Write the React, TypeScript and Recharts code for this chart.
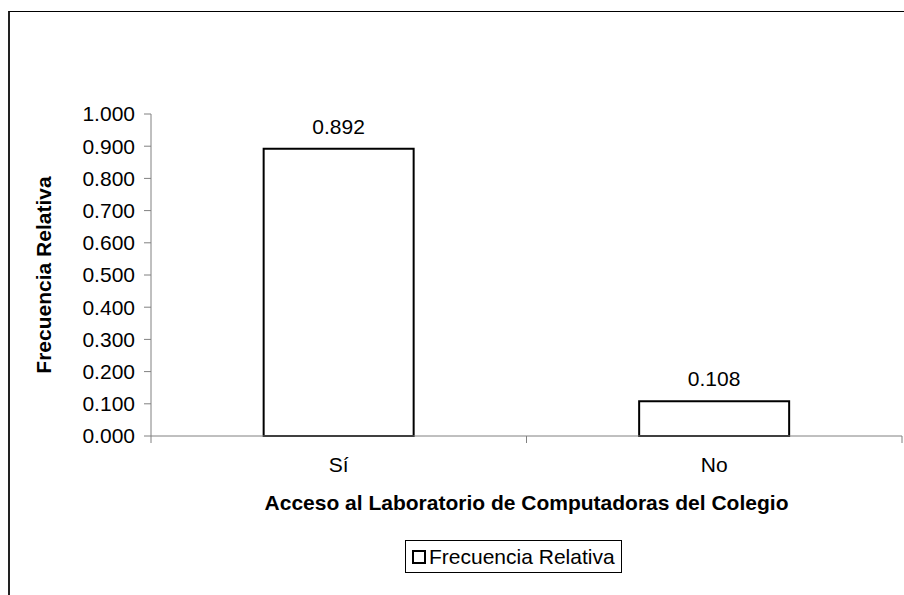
import React from "react"
import { BarChart, Bar, XAxis, YAxis, LabelList, Label } from "recharts"

const categories = ["Sí", "No"]
const frecuenciaRelativa = [0.892, 0.108]
const yTicks = [0, 0.1, 0.2, 0.3, 0.4, 0.5, 0.6, 0.7, 0.8, 0.9, 1.0]
const xTitle = "Acceso al Laboratorio de Computadoras del Colegio"
const yTitle = "Frecuencia Relativa"
const seriesName = "Frecuencia Relativa"

const data = categories.map((c, i) => ({ acceso: c, frecuencia: frecuenciaRelativa[i] }))

const FONT = "'Liberation Sans', Arial, sans-serif"
const FS = 21
const W = 904
const H = 595
const PLOT_LEFT = 151
const PLOT_RIGHT = 902
const HALF_BAND = (PLOT_RIGHT - PLOT_LEFT) / categories.length / 2

function CategoryTick(props: any) {
  const { x, y, payload, index } = props
  const last = index === categories.length - 1
  return (
    <g>
      <line x1={x - HALF_BAND} y1={y} x2={x - HALF_BAND} y2={y + 7} stroke="#808080" />
      {last && <line x1={x + HALF_BAND} y1={y} x2={x + HALF_BAND} y2={y + 7} stroke="#808080" />}
      <text x={x} y={y + 36} textAnchor="middle" fontSize={FS} fontFamily={FONT} fill="#000">
        {payload.value}
      </text>
    </g>
  )
}

export default function App() {
  return (
    <div style={{ position: "absolute", left: 0, top: 0, width: W, height: H, background: "#fff", overflow: "hidden" }}>
      <div
        style={{
          position: "absolute",
          left: 8,
          top: 11,
          width: 1000,
          height: 1000,
          borderLeft: "2px solid #222",
          borderTop: "1.5px solid #000",
        }}
      />
      <div style={{ position: "absolute", left: 0, top: 0 }}>
        <BarChart
          width={W}
          height={H}
          data={data}
          margin={{ top: 114, right: W - PLOT_RIGHT, bottom: 79, left: 0 }}
          barCategoryGap="30%"
        >
          <XAxis
            dataKey="acceso"
            height={80}
            tickSize={0}
            tickMargin={0}
            tickLine={false}
            axisLine={{ stroke: "#808080" }}
            tick={<CategoryTick />}
            interval={0}
          >
            <Label
              content={(p: any) => (
                <text
                  x={p.viewBox.x + p.viewBox.width / 2}
                  y={p.viewBox.y + 74}
                  textAnchor="middle"
                  fontSize={FS}
                  fontWeight="bold"
                  fontFamily={FONT}
                  fill="#000"
                >
                  {xTitle}
                </text>
              )}
            />
          </XAxis>
          <YAxis
            width={PLOT_LEFT}
            domain={[0, 1]}
            ticks={yTicks}
            interval={0}
            tickFormatter={(v: number) => v.toFixed(3)}
            tickSize={7}
            tickMargin={9}
            axisLine={{ stroke: "#808080" }}
            tickLine={{ stroke: "#808080" }}
            tick={{ fill: "#000", fontSize: FS, fontFamily: FONT }}
          >
            <Label
              content={(p: any) => {
                const cx = p.viewBox.x + 43
                const cy = p.viewBox.y + p.viewBox.height / 2
                return (
                  <text
                    x={cx}
                    y={cy}
                    transform={`rotate(-90 ${cx} ${cy})`}
                    textAnchor="middle"
                    dominantBaseline="central"
                    fontSize={FS}
                    fontWeight="bold"
                    fontFamily={FONT}
                    fill="#000"
                  >
                    {yTitle}
                  </text>
                )
              }}
            />
          </YAxis>
          <Bar dataKey="frecuencia" name={seriesName} fill="#fff" stroke="#000" strokeWidth={2} isAnimationActive={false}>
            <LabelList
              dataKey="frecuencia"
              position="top"
              offset={15}
              formatter={(v: any) => Number(v).toFixed(3)}
              style={{ fill: "#000", fontSize: FS, fontFamily: FONT }}
            />
          </Bar>
        </BarChart>
      </div>
      <div
        style={{
          position: "absolute",
          left: 405,
          top: 540,
          width: 217,
          height: 33,
          border: "1px solid #000",
          boxSizing: "border-box",
          display: "flex",
          alignItems: "center",
          fontFamily: FONT,
          fontSize: FS,
          color: "#000",
          whiteSpace: "nowrap",
        }}
      >
        <span
          style={{
            display: "inline-block",
            width: 10,
            height: 10,
            border: "2px solid #000",
            marginLeft: 6,
            marginRight: 3,
            background: "#fff",
          }}
        />
        {seriesName}
      </div>
    </div>
  )
}
